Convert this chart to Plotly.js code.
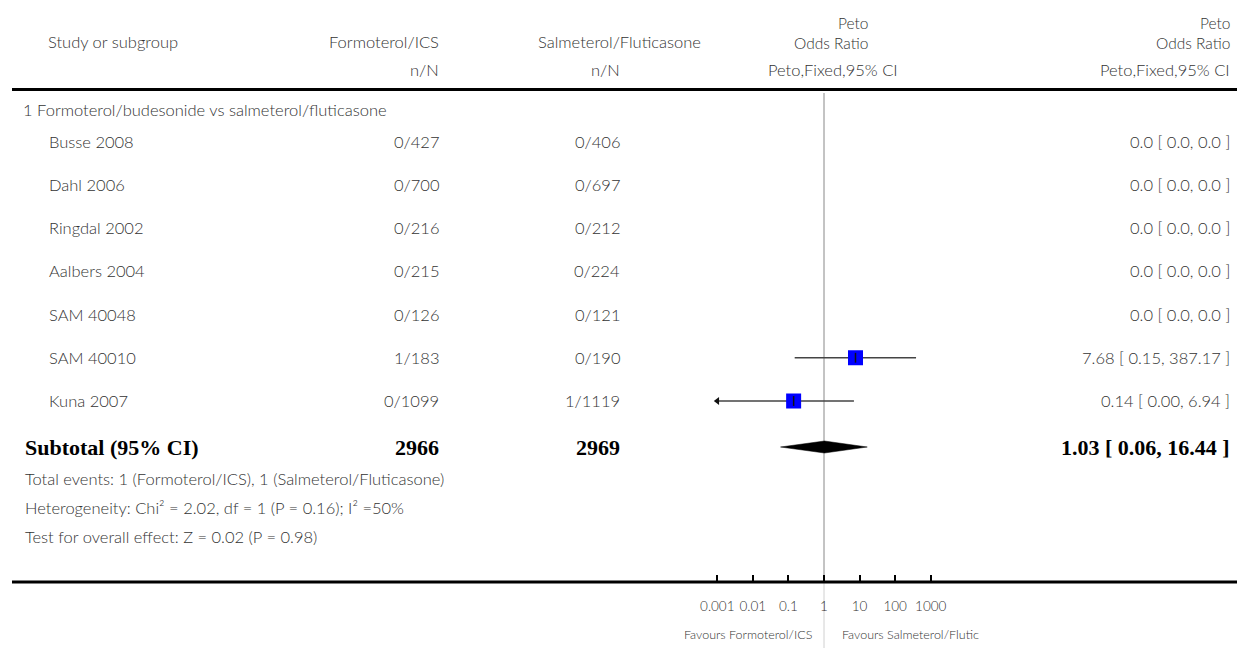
<!DOCTYPE html>
<html><head><meta charset="utf-8">
<script src="https://cdn.plot.ly/plotly-3.0.1.min.js"></script>
<style>html,body{margin:0;padding:0;background:#fff}#chart{width:1237px;height:648px}</style>
</head><body><div id="chart"></div>
<script>
// ---- data ----
const groupLabel = "1 Formoterol/budesonide vs salmeterol/fluticasone";
const studies = ["Busse 2008","Dahl 2006","Ringdal 2002","Aalbers 2004","SAM 40048","SAM 40010","Kuna 2007"];
const formoterolNN = ["0/427","0/700","0/216","0/215","0/126","1/183","0/1099"];
const salmeterolNN = ["0/406","0/697","0/212","0/224","0/121","0/190","1/1119"];
const orValue = [null,null,null,null,null,7.68,0.14];
const ciLow   = [null,null,null,null,null,0.15,0.00];
const ciHigh  = [null,null,null,null,null,387.17,6.94];
const orText  = ["0.0 [ 0.0, 0.0 ]","0.0 [ 0.0, 0.0 ]","0.0 [ 0.0, 0.0 ]","0.0 [ 0.0, 0.0 ]","0.0 [ 0.0, 0.0 ]","7.68 [ 0.15, 387.17 ]","0.14 [ 0.00, 6.94 ]"];
const subtotalLabel = "Subtotal (95% CI)";
const subtotalN = ["2966","2969"];
const subtotalOR = [0.06, 1.03, 16.44]; // low, estimate, high
const subtotalText = "1.03 [ 0.06, 16.44 ]";
const footLines = ["Total events: 1 (Formoterol/ICS), 1 (Salmeterol/Fluticasone)",
                   "Heterogeneity: Chi² = 2.02, df = 1 (P = 0.16); I² =50%",
                   "Test for overall effect: Z = 0.02 (P = 0.98)"];
const tickVals = [0.001,0.01,0.1,1,10,100,1000];
const tickText = ["0.001","0.01","0.1","1","10","100","1000"];
const favours = ["Favours Formoterol/ICS","Favours Salmeterol/Flutic"];

// ---- layout helpers ----
const W = 1237, H = 648;
const ROW0 = 141.5, ROWH = 43.25;          // pixel of first study row, row height
const py = p => (p - ROW0) / ROWH;          // pixel -> row units
const xp = p => p / W;                      // pixel -> paper x
const yp = p => 1 - p / H;                  // pixel -> paper y
const axisMin = 0.001;
const subK = py(447);

const FONT = "Lato, 'Open Sans', sans-serif";
const TXT = "#333";
const BOLD = "'Liberation Serif', 'DejaVu Serif', serif";
const BODY = 16.5, BIG = 22;

const traces = [];
// reference line at 1
traces.push({x:[1,1], y:[py(93), py(581)], mode:'lines', line:{color:'#888', width:1}, hoverinfo:'skip', showlegend:false});
traces.push({x:[1,1], y:[py(581), py(648)], mode:'lines', line:{color:'#d0d0d0', width:1}, hoverinfo:'skip', showlegend:false});
// CI lines
studies.forEach((s,i) => {
  if (orValue[i] === null) return;
  traces.push({x:[Math.max(ciLow[i], axisMin), ciHigh[i]], y:[i,i], mode:'lines',
    line:{color:'#444', width:1.3}, hoverinfo:'skip', showlegend:false});
});
// arrows for truncated CIs
const arrX = [], arrY = [];
studies.forEach((s,i) => { if (orValue[i] !== null && ciLow[i] < axisMin) { arrX.push(axisMin); arrY.push(i); } });
traces.push({x:arrX, y:arrY, mode:'markers', marker:{symbol:'triangle-left', size:7, color:'#111'}, hoverinfo:'skip', showlegend:false});
// squares
const sqX = [], sqY = [];
studies.forEach((s,i) => { if (orValue[i] !== null) { sqX.push(orValue[i]); sqY.push(i); } });
traces.push({x:sqX, y:sqY, mode:'markers', marker:{symbol:'square', size:15, color:'#0000ff', line:{width:0}}, hoverinfo:'skip', showlegend:false});
traces.push({x:sqX, y:sqY, mode:'markers', marker:{symbol:'line-ns', size:7, color:'#111', line:{color:'#111', width:1.5}}, hoverinfo:'skip', showlegend:false});
// diamond
const dH = 6 / ROWH;
traces.push({x:[subtotalOR[0], subtotalOR[1], subtotalOR[2], subtotalOR[1], subtotalOR[0]],
  y:[subK, subK - dH, subK, subK + dH, subK], mode:'lines', fill:'toself', fillcolor:'#000',
  line:{color:'#000', width:0.5}, hoverinfo:'skip', showlegend:false});

const ann = [];
function A(text, x, y, anchor, opts={}) {
  ann.push({text, x:xp(x), y: (opts.row!==undefined ? opts.row : yp(y)), xref:'paper',
    yref: (opts.row!==undefined ? 'y' : 'paper'), xanchor:anchor, yanchor:'middle', showarrow:false,
    align: anchor === 'right' ? 'right' : 'left', borderpad:0,
    font:{family: opts.bold ? BOLD : FONT, size: opts.size || BODY, color: opts.bold ? '#000' : TXT,
          weight: opts.bold ? 700 : 300}});
}
// headers
A("Study or subgroup", 47, 42, 'left');
A("Formoterol/ICS", 440, 42, 'right');
A("n/N", 440, 70, 'right');
A("Salmeterol/Fluticasone", 702, 42, 'right');
A("n/N", 621, 70, 'right');
A("Peto<br>Odds Ratio", 869, 33, 'right', {size:15.5});
A("Peto,Fixed,95% CI", 899, 70, 'right');
A("Peto<br>Odds Ratio", 1231, 33, 'right', {size:15.5});
A("Peto,Fixed,95% CI", 1231, 70, 'right');
A(groupLabel, 22, 110, 'left');
studies.forEach((s,i) => {
  A(s, 48, 0, 'left', {row:i});
  A(formoterolNN[i], 440, 0, 'right', {row:i});
  A(salmeterolNN[i], 621, 0, 'right', {row:i});
  A(orText[i], 1231, 0, 'right', {row:i});
});
A(subtotalLabel, 24, 0, 'left', {row:subK, bold:true, size:BIG});
A(subtotalN[0], 440, 0, 'right', {row:subK, bold:true, size:BIG});
A(subtotalN[1], 621, 0, 'right', {row:subK, bold:true, size:BIG});
A(subtotalText, 1231, 0, 'right', {row:subK, bold:true, size:BIG});
A(footLines[0], 24, 479, 'left');
A(footLines[1], 24, 508, 'left');
A(footLines[2], 24, 537, 'left');
A(favours[0], 813, 634, 'right', {size:12.5});
A(favours[1], 841, 634, 'left', {size:12.5});

const decade = 35.57, centre = 824;
const layout = {
  width: W, height: H, margin:{l:0,r:0,t:0,b:0}, paper_bgcolor:'#fff', plot_bgcolor:'#fff',
  showlegend:false,
  xaxis:{type:'log', range:[-centre/decade, (W-centre)/decade], showgrid:false, zeroline:false, showline:false,
    tickvals:tickVals, ticktext:tickText, ticks:'inside', ticklen:7, tickwidth:2, tickcolor:'#000',
    tickfont:{family:FONT, size:13.5, color:TXT, weight:300}, anchor:'free', position: 1 - 582/H,
    ticklabelstandoff: 14, fixedrange:true},
  yaxis:{range:[py(H), py(0)], showgrid:false, zeroline:false, showline:false, showticklabels:false, ticks:'', fixedrange:true},
  shapes:[
    {type:'line', xref:'paper', yref:'paper', x0:xp(12), x1:1, y0:yp(89.5), y1:yp(89.5), line:{color:'#000', width:3}},
    {type:'line', xref:'paper', yref:'paper', x0:xp(12), x1:1, y0:yp(582), y1:yp(582), line:{color:'#000', width:3}}
  ],
  annotations: ann
};
Plotly.newPlot('chart', traces, layout, {displayModeBar:false, staticPlot:true});
</script></body></html>
